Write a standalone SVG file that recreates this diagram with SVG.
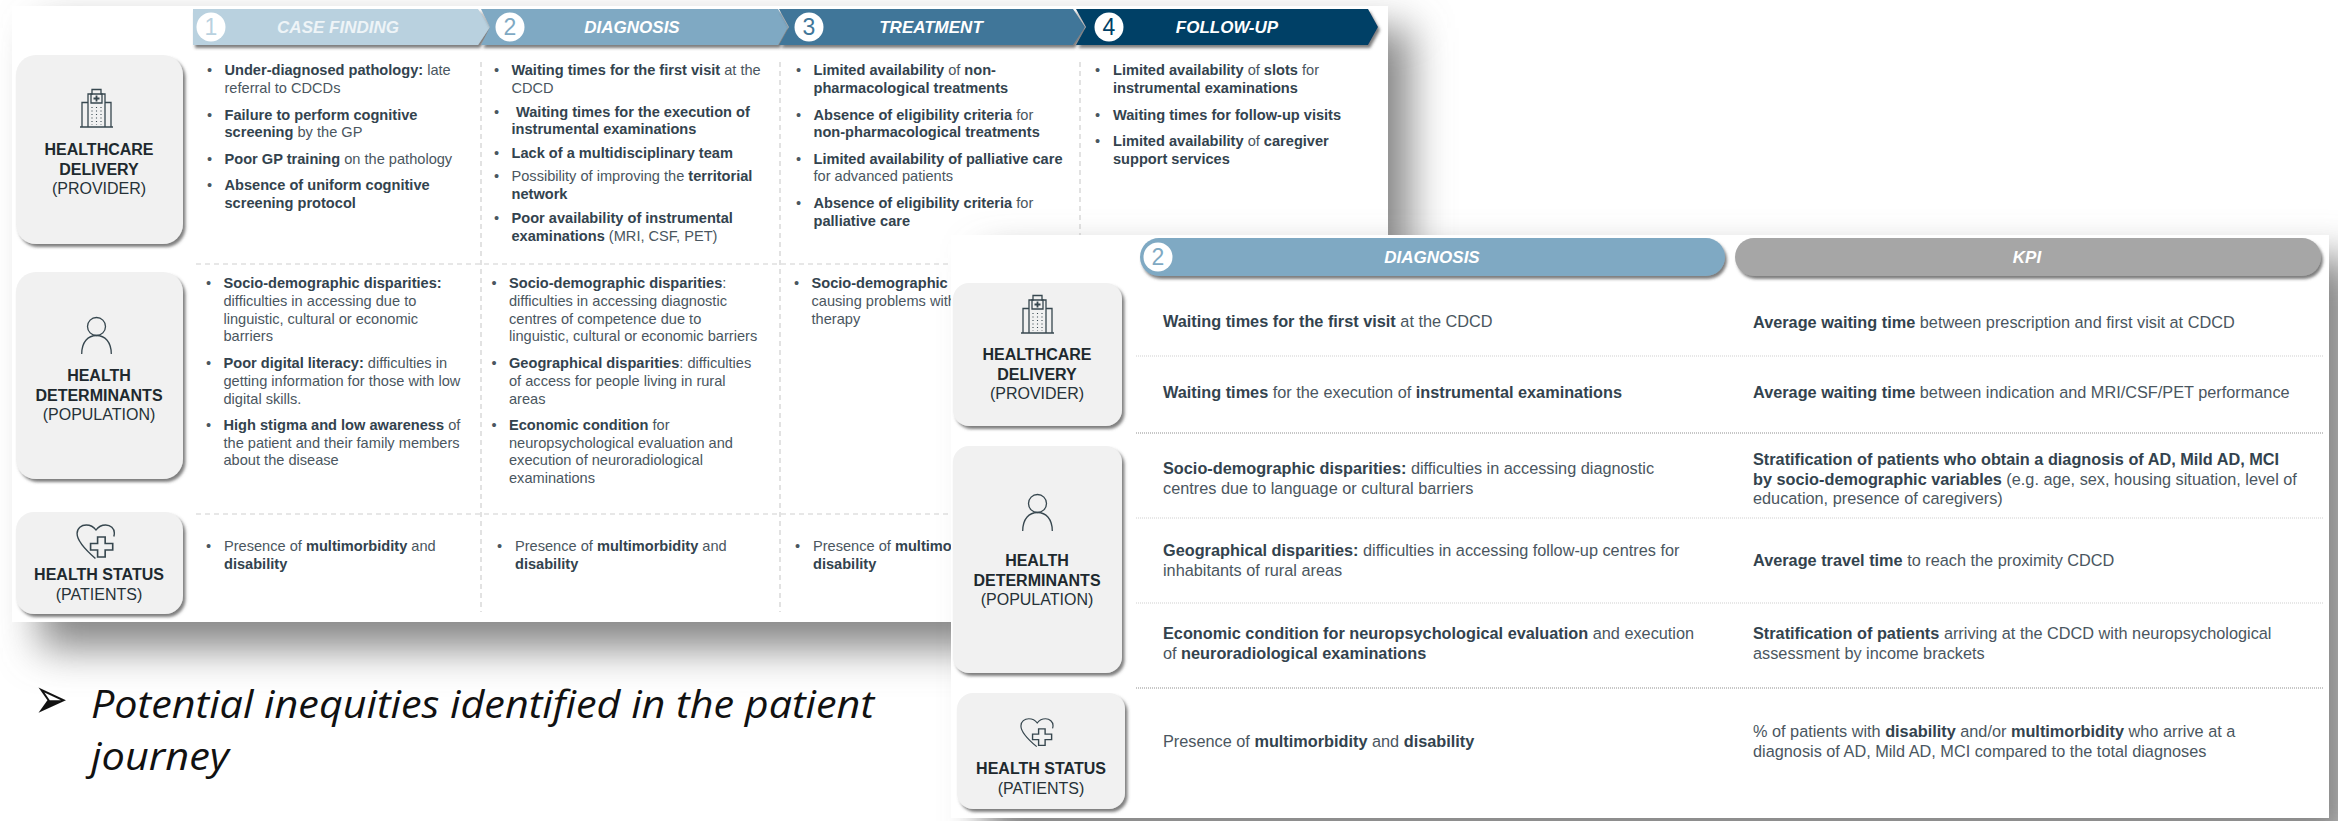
<svg xmlns="http://www.w3.org/2000/svg" width="2338" height="821" viewBox="0 0 2338 821">
<style>
text{font-family:"Liberation Sans",Arial,sans-serif;fill:#4a5660}
.t{font-size:14.6px}
.u{font-size:16.3px}
.b{font-weight:700;fill:#33434e}
.lab{font-size:16px;fill:#263238;text-anchor:middle}
.lb{font-weight:700;fill:#20292e}
.hd{font-size:17px;font-weight:700;font-style:italic;fill:#fff;text-anchor:middle}
.n{font-size:23px;text-anchor:middle}
.box{fill:#f1f1f1;filter:url(#ds)}
.ic{fill:none;stroke:#37474f;stroke-width:1.3}
.dash{stroke:#cfcfcf;stroke-width:1.2;stroke-dasharray:5 4;fill:none}
.dl{stroke:#cfcfcf;stroke-width:1.2;stroke-dasharray:1 1;fill:none}
.dd{stroke:#8f8f8f;stroke-width:1.2;stroke-dasharray:1 1;fill:none}
.big{font-family:"Open Sans","Liberation Sans",sans-serif;font-size:37.5px;font-style:italic;fill:#111}
</style>
<defs>
<filter id="ds" x="-10%" y="-10%" width="125%" height="125%"><feDropShadow dx="2.5" dy="3" stdDeviation="1.6" flood-color="#555" flood-opacity=".75"/></filter>
<filter id="hs" x="-5%" y="-20%" width="110%" height="150%"><feDropShadow dx="2" dy="3" stdDeviation="1.6" flood-color="#444" flood-opacity=".7"/></filter>
<filter id="blur" x="-8%" y="-20%" width="116%" height="140%"><feGaussianBlur stdDeviation="20"/></filter>
<g id="bld" class="ic">
<path d="M0 39H33M2 39V14.500H8M31 39V14.500H25M8 39V6H12V1.500H21V6H25V39"/>
<path d="M11 6H22V15H11Z"/>
<path d="M16.500 7.500V13.500M13.500 10.500H19.500" stroke-width="1.8"/>
<path d="M12 19V37M16.500 19V37M21 19V37" stroke-dasharray="1 2.500" stroke-width="1.100"/>
</g>
<g id="per" class="ic">
<circle cx="15.500" cy="9.500" r="9"/>
<path d="M.7 37C.7 25 7 18.500 15.500 18.500S30.300 25 30.300 37"/>
</g>
<g id="hrt" class="ic">
<path d="M18 34.500C10 27 1 17 1 9.500C1 4 5 1 9.500 1C13.500 1 16.500 3 18.500 6C20.500 3 23.500 1 27.500 1C32 1 35.500 4.500 35.500 9C35.500 10.500 35.300 11.500 35 12.500"/>
<path d="M20 13H27V19.500H34V26H27V33H20V26H13.500V19.500H20Z" stroke-width="1.500"/>
</g>
</defs>
<rect width="2338" height="821" fill="#fff"/>

<g id="panel-journey">
<rect x="40" y="28" width="1370" height="620" fill="#858585" filter="url(#blur)"/>
<rect x="12" y="6" width="1376" height="616" fill="#fff"/>

<g id="grid-journey">
<path class="dash" d="M196 264H1388M196 514H1388M481 62V612M780 62V612M1080 62V240"/>
</g>

<g id="step-1"><path d="M193 9H478L490 27L478 45H193Z" fill="#b9d1df" filter="url(#hs)"/><circle cx="211" cy="27" r="14.500" fill="#fff"/><text class="n" x="211" y="35" style="fill:#b9d1df">1</text><text class="hd" x="338" y="33" style="fill:#eef4f7">CASE FINDING</text></g>
<g id="step-2"><path d="M481 9H778L788 27L778 45H481L490 27Z" fill="#7fa9c3" filter="url(#hs)"/><circle cx="510" cy="27" r="14.500" fill="#fff"/><text class="n" x="510" y="35" style="fill:#7fa9c3">2</text><text class="hd" x="632" y="33">DIAGNOSIS</text></g>
<g id="step-3"><path d="M779 9H1073L1085 27L1073 45H779L789 27Z" fill="#3f7699" filter="url(#hs)"/><circle cx="809" cy="27" r="14.500" fill="#fff"/><text class="n" x="809" y="35" style="fill:#3f7699">3</text><text class="hd" x="931" y="33">TREATMENT</text></g>
<g id="step-4"><path d="M1076 9H1368L1378 27L1368 45H1076L1086 27Z" fill="#003f66" filter="url(#hs)"/><circle cx="1109" cy="27" r="14.500" fill="#fff"/><text class="n" x="1109" y="35" style="fill:#003f66">4</text><text class="hd" x="1227" y="33">FOLLOW-UP</text></g>

<g id="row-provider">
<rect class="box" x="16" y="55" width="167" height="189" rx="20"/>
<use href="#bld" x="80" y="88"/>
<text class="lab" x="99" y="155"><tspan class="lb">HEALTHCARE</tspan></text>
<text class="lab" x="99" y="175"><tspan class="lb">DELIVERY</tspan></text>
<text class="lab" x="99" y="194">(PROVIDER)</text>
</g>
<g id="row-population">
<rect class="box" x="16" y="272" width="167" height="207" rx="20"/>
<use href="#per" x="81" y="317"/>
<text class="lab" x="99" y="381"><tspan class="lb">HEALTH</tspan></text>
<text class="lab" x="99" y="401"><tspan class="lb">DETERMINANTS</tspan></text>
<text class="lab" x="99" y="420">(POPULATION)</text>
</g>
<g id="row-patients">
<rect class="box" x="16" y="512" width="167" height="102" rx="18"/>
<use href="#hrt" transform="translate(76 524) scale(1.08 1)"/>
<text class="lab" x="99" y="580"><tspan class="lb">HEALTH STATUS</tspan></text>
<text class="lab" x="99" y="600">(PATIENTS)</text>
</g>

<g id="cell-case-provider" class="t">
<text x="207" y="75">•</text><text x="224.500" y="75"><tspan class="b">Under-diagnosed pathology:</tspan> late</text><text x="224.500" y="92.500">referral to CDCDs</text>
<text x="207" y="119.500">•</text><text x="224.500" y="119.500"><tspan class="b">Failure to perform cognitive</tspan></text><text x="224.500" y="137"><tspan class="b">screening</tspan> by the GP</text>
<text x="207" y="163.500">•</text><text x="224.500" y="163.500"><tspan class="b">Poor GP training</tspan> on the pathology</text>
<text x="207" y="190">•</text><text x="224.500" y="190"><tspan class="b">Absence of uniform cognitive</tspan></text><text x="224.500" y="208"><tspan class="b">screening protocol</tspan></text>
</g>
<g id="cell-diagnosis-provider" class="t">
<text x="494" y="75">•</text><text x="511.500" y="75"><tspan class="b">Waiting times for the first visit</tspan> at the</text><text x="511.500" y="92.500">CDCD</text>
<text x="494" y="116.500">•</text><text x="516" y="116.500"><tspan class="b">Waiting times for the execution of</tspan></text><text x="511.500" y="134"><tspan class="b">instrumental examinations</tspan></text>
<text x="494" y="157.500">•</text><text x="511.500" y="157.500"><tspan class="b">Lack of a multidisciplinary team</tspan></text>
<text x="494" y="181">•</text><text x="511.500" y="181">Possibility of improving the <tspan class="b">territorial</tspan></text><text x="511.500" y="199"><tspan class="b">network</tspan></text>
<text x="494" y="223">•</text><text x="511.500" y="223"><tspan class="b">Poor availability of instrumental</tspan></text><text x="511.500" y="240.500"><tspan class="b">examinations</tspan> (MRI, CSF, PET)</text>
</g>
<g id="cell-treatment-provider" class="t">
<text x="796" y="75">•</text><text x="813.500" y="75"><tspan class="b">Limited availability</tspan> of <tspan class="b">non-</tspan></text><text x="813.500" y="92.500"><tspan class="b">pharmacological treatments</tspan></text>
<text x="796" y="119.500">•</text><text x="813.500" y="119.500"><tspan class="b">Absence of eligibility criteria</tspan> for</text><text x="813.500" y="137"><tspan class="b">non-pharmacological treatments</tspan></text>
<text x="796" y="163.500">•</text><text x="813.500" y="163.500"><tspan class="b">Limited availability of palliative care</tspan></text><text x="813.500" y="181">for advanced patients</text>
<text x="796" y="208">•</text><text x="813.500" y="208"><tspan class="b">Absence of eligibility criteria</tspan> for</text><text x="813.500" y="226"><tspan class="b">palliative care</tspan></text>
</g>
<g id="cell-followup-provider" class="t">
<text x="1095" y="75">•</text><text x="1113" y="75"><tspan class="b">Limited availability</tspan> of <tspan class="b">slots</tspan> for</text><text x="1113" y="92.500"><tspan class="b">instrumental examinations</tspan></text>
<text x="1095" y="119.500">•</text><text x="1113" y="119.500"><tspan class="b">Waiting times for follow-up visits</tspan></text>
<text x="1095" y="145.500">•</text><text x="1113" y="145.500"><tspan class="b">Limited availability</tspan> of <tspan class="b">caregiver</tspan></text><text x="1113" y="163.500"><tspan class="b">support services</tspan></text>
</g>
<g id="cell-case-population" class="t">
<text x="206" y="287.500">•</text><text x="223.500" y="287.500"><tspan class="b">Socio-demographic disparities:</tspan></text><text x="223.500" y="305.500">difficulties in accessing due to</text><text x="223.500" y="323.500">linguistic, cultural or economic</text><text x="223.500" y="341">barriers</text>
<text x="206" y="368">•</text><text x="223.500" y="368"><tspan class="b">Poor digital literacy:</tspan> difficulties in</text><text x="223.500" y="385.500">getting information for those with low</text><text x="223.500" y="403.500">digital skills.</text>
<text x="206" y="429.500">•</text><text x="223.500" y="429.500"><tspan class="b">High stigma and low awareness</tspan> of</text><text x="223.500" y="447.500">the patient and their family members</text><text x="223.500" y="465">about the disease</text>
</g>
<g id="cell-diagnosis-population" class="t">
<text x="491.500" y="287.500">•</text><text x="509" y="287.500"><tspan class="b">Socio-demographic disparities</tspan>:</text><text x="509" y="305.500">difficulties in accessing diagnostic</text><text x="509" y="323.500">centres of competence due to</text><text x="509" y="341">linguistic, cultural or economic barriers</text>
<text x="491.500" y="368">•</text><text x="509" y="368"><tspan class="b">Geographical disparities</tspan>: difficulties</text><text x="509" y="385.500">of access for people living in rural</text><text x="509" y="403.500">areas</text>
<text x="491.500" y="429.500">•</text><text x="509" y="429.500"><tspan class="b">Economic condition</tspan> for</text><text x="509" y="447.500">neuropsychological evaluation and</text><text x="509" y="465">execution of neuroradiological</text><text x="509" y="482.500">examinations</text>
</g>
<g id="cell-treatment-population" class="t">
<text x="794" y="287.500">•</text><text x="811.500" y="287.500"><tspan class="b">Socio-demographic</tspan></text><text x="811.500" y="305.500">causing problems with</text><text x="811.500" y="323.500">therapy</text>
</g>
<g id="cell-case-patients" class="t">
<text x="206" y="551">•</text><text x="224" y="551">Presence of <tspan class="b">multimorbidity</tspan> and</text><text x="224" y="569"><tspan class="b">disability</tspan></text>
</g>
<g id="cell-diagnosis-patients" class="t">
<text x="497" y="551">•</text><text x="515" y="551">Presence of <tspan class="b">multimorbidity</tspan> and</text><text x="515" y="569"><tspan class="b">disability</tspan></text>
</g>
<g id="cell-treatment-patients" class="t">
<text x="795" y="551">•</text><text x="813" y="551">Presence of <tspan class="b">multimorbidity</tspan></text><text x="813" y="569"><tspan class="b">disability</tspan></text>
</g>
</g>

<g id="caption">
<text transform="translate(34 718) scale(1.35 1.9)" style="font-family:'DejaVu Sans',sans-serif;font-size:30px;fill:#111">➢</text>
<text class="big" x="91" y="718" textLength="783" lengthAdjust="spacingAndGlyphs">Potential inequities identified in the patient</text>
<text class="big" x="91" y="770" textLength="138" lengthAdjust="spacingAndGlyphs">journey</text>
</g>

<g id="panel-kpi">
<rect x="985" y="258" width="1370" height="590" fill="#858585" filter="url(#blur)"/>
<rect x="951" y="235" width="1378" height="583" fill="#fff"/>

<g id="head-diagnosis"><rect x="1140" y="238" width="585" height="38" rx="19" fill="#7fa9c3" filter="url(#hs)"/><circle cx="1158" cy="257" r="14.500" fill="#fff"/><text class="n" x="1158" y="265" style="fill:#7fa9c3">2</text><text class="hd" x="1432" y="263">DIAGNOSIS</text></g>
<g id="head-kpi"><rect x="1735" y="238" width="586" height="38" rx="19" fill="#a6a6a6" filter="url(#hs)"/><text class="hd" x="2027" y="263">KPI</text></g>

<g id="rows-kpi">
<path class="dl" d="M1136 356H2323M1136 518H2323M1136 603H2323"/>
<path class="dd" d="M1136 433H2323M1136 688H2323"/>
</g>

<g id="kpi-provider">
<rect class="box" x="953" y="283" width="169" height="143" rx="16"/>
<use href="#bld" x="1021" y="294"/>
<text class="lab" x="1037" y="360"><tspan class="lb">HEALTHCARE</tspan></text>
<text class="lab" x="1037" y="380"><tspan class="lb">DELIVERY</tspan></text>
<text class="lab" x="1037" y="399">(PROVIDER)</text>
</g>
<g id="kpi-population">
<rect class="box" x="953" y="446" width="169" height="227" rx="16"/>
<use href="#per" x="1022" y="494"/>
<text class="lab" x="1037" y="566"><tspan class="lb">HEALTH</tspan></text>
<text class="lab" x="1037" y="586"><tspan class="lb">DETERMINANTS</tspan></text>
<text class="lab" x="1037" y="605">(POPULATION)</text>
</g>
<g id="kpi-patients">
<rect class="box" x="957" y="693" width="168" height="116" rx="16"/>
<use href="#hrt" transform="translate(1020 718) scale(.93 .83)"/>
<text class="lab" x="1041" y="774"><tspan class="lb">HEALTH STATUS</tspan></text>
<text class="lab" x="1041" y="794">(PATIENTS)</text>
</g>

<g id="kpi-inequities" class="u">
<text x="1163" y="327"><tspan class="b">Waiting times for the first visit</tspan> at the CDCD</text>
<text x="1163" y="398"><tspan class="b">Waiting times</tspan> for the execution of <tspan class="b">instrumental examinations</tspan></text>
<text x="1163" y="474"><tspan class="b">Socio-demographic disparities:</tspan> difficulties in accessing diagnostic</text>
<text x="1163" y="494">centres due to language or cultural barriers</text>
<text x="1163" y="556"><tspan class="b">Geographical disparities:</tspan> difficulties in accessing follow-up centres for</text>
<text x="1163" y="576">inhabitants of rural areas</text>
<text x="1163" y="639"><tspan class="b">Economic condition for neuropsychological evaluation</tspan> and execution</text>
<text x="1163" y="659">of <tspan class="b">neuroradiological examinations</tspan></text>
<text x="1163" y="747">Presence of <tspan class="b">multimorbidity</tspan> and <tspan class="b">disability</tspan></text>
</g>
<g id="kpi-measures" class="u">
<text x="1753" y="328"><tspan class="b">Average waiting time</tspan> between prescription and first visit at CDCD</text>
<text x="1753" y="398"><tspan class="b">Average waiting time</tspan> between indication and MRI/CSF/PET performance</text>
<text x="1753" y="465"><tspan class="b">Stratification of patients who obtain a diagnosis of AD, Mild AD, MCI</tspan></text>
<text x="1753" y="485"><tspan class="b">by socio-demographic variables</tspan> (e.g. age, sex, housing situation, level of</text>
<text x="1753" y="504">education, presence of caregivers)</text>
<text x="1753" y="566"><tspan class="b">Average travel time</tspan> to reach the proximity CDCD</text>
<text x="1753" y="639"><tspan class="b">Stratification of patients</tspan> arriving at the CDCD with neuropsychological</text>
<text x="1753" y="659">assessment by income brackets</text>
<text x="1753" y="737">% of patients with <tspan class="b">disability</tspan> and/or <tspan class="b">multimorbidity</tspan> who arrive at a</text>
<text x="1753" y="757">diagnosis of AD, Mild AD, MCI compared to the total diagnoses</text>
</g>
</g>
</svg>
